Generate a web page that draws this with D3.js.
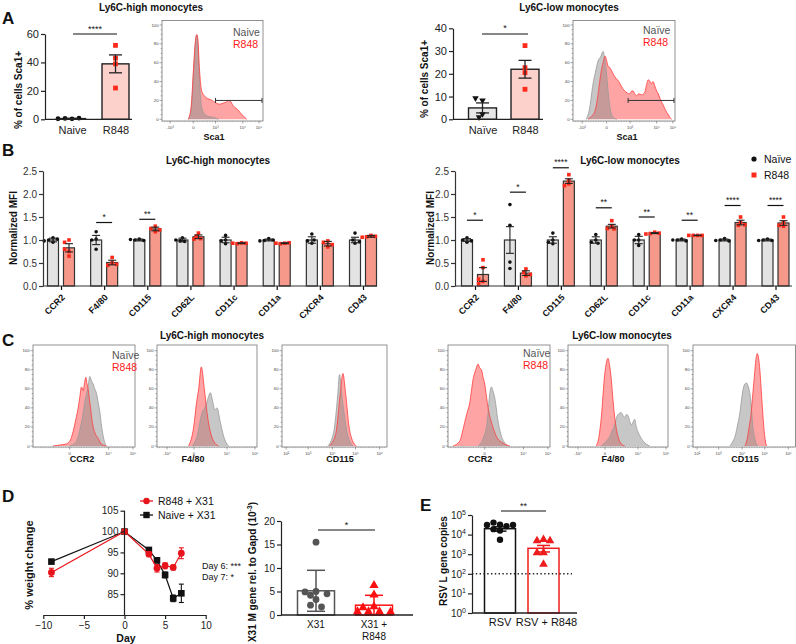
<!DOCTYPE html>
<html><head><meta charset="utf-8">
<script src="https://cdn.jsdelivr.net/npm/d3@7/dist/d3.min.js"></script>
<style>html,body{margin:0;padding:0;background:#fff;}svg{display:block;opacity:0.999;}</style>
</head><body>
<svg id="fig" width="796" height="644" xmlns="http://www.w3.org/2000/svg"></svg>
<script>
// ================= DATA =================
// Panel A: % of cells Sca1+
const aHighCats = ["Naive", "R848"];
const aHighNaivePts = [0.3, 0.6, 0.8, 0.4];
const aHighR848Pts = [52, 43, 39, 22];
const aHighMean = [0.5, 39];
const aHighSem = [0.2, 6.3];
const aHighTicks = [0, 20, 40, 60];

const aLowCats = ["Naïve", "R848"];
const aLowNaivePts = [8.3, 9.3, 2.3, 0.9];
const aLowR848Pts = [32.4, 22.7, 20.5, 13.2];
const aLowMean = [5, 22];
const aLowSem = [2.2, 3.9];
const aLowTicks = [0, 10, 20, 30, 40];

// Sca1 histograms: [channel position 0-100, % of max]
const histAHighNaive = [[26,0],[29,10],[31,45],[33,80],[34.4,89],[35.5,80],[36.7,50],[38,25],[39.5,12],[42,6],[46,3],[51,2],[56,0]];
const histAHighR848 = [[26,0],[29,15],[31,50],[33,82],[34.4,90],[35.5,85],[37,55],[38.5,35],[40,28],[42,25],[45,22],[48,21],[51,19],[54,17],[57,16],[60,17],[63,18],[66,20],[68,19],[70,15],[73,12],[76,9],[79,5],[82,2],[84,0]];
const histALowNaive = [[13,0],[16,10],[19.7,38],[22,50],[24.6,62],[27,66],[29.5,72],[31,65],[32.8,50],[34,35],[35.4,20],[37,8],[39,3],[43,0]];
const histALowR848 = [[14.8,0],[18,3],[21.3,8],[24,22],[25.6,35],[27.5,50],[29.5,60],[31.5,67],[33,62],[34.5,56],[36,55],[38.5,50],[41,45],[43.5,42],[46,38],[48.5,33],[50.8,30],[53,28],[55.7,27],[57.5,30],[59,30],[60.5,27],[62.3,25],[64.5,27],[67.2,26],[69,27],[70.5,29],[72,36],[73.8,42],[75.5,40],[77,38],[78.5,40],[80.3,35],[82,30],[83.6,27],[86,20],[88.5,15],[91,9],[93.4,5],[95,2],[96.7,0]];
const gateAHigh = [53, 99, 20];
const gateALow = [54, 99, 20];
const histTickAHighPos = [8, 31, 53, 80, 96];
const histTickAHighLab = ["-10³", "0", "10³", "10⁴", "10⁵"];
const histTickALowPos = [9, 33, 56, 82, 98];
const histTickALowLab = ["-10³", "0", "10³", "10⁴", "10⁵"];

// Panel B: normalized MFI
const bMarkers = ["CCR2", "F4/80", "CD115", "CD62L", "CD11c", "CD11a", "CXCR4", "CD43"];
const bHighNaiveMean = [1, 1, 1, 1, 1, 1, 1, 1];
const bHighNaiveSem = [0.04, 0.1, 0.02, 0.04, 0.06, 0.02, 0.07, 0.06];
const bHighR848Mean = [0.83, 0.51, 1.24, 1.07, 0.93, 0.93, 0.92, 1.08];
const bHighR848Sem = [0.09, 0.05, 0.04, 0.04, 0.01, 0.01, 0.05, 0.02];
const bHighNaivePts = [[1.05,1.0,0.95,1.02,0.98],[1.18,0.8,1.02,1.0],[1.02,1.0,0.99,1.01],[1.05,0.98,0.97,1.0],[1.1,0.92,1.0,0.98],[1.03,0.99,1.0,0.98],[1.13,0.93,0.98,1.0],[1.15,0.93,1.0,0.96]];
const bHighR848Pts = [[1.0,0.95,0.75,0.65,0.8],[0.62,0.5,0.45,0.47],[1.3,1.25,1.18,1.22],[1.15,1.08,1.03,1.02],[0.94,0.92,0.93,0.93],[0.93,0.92,0.94,0.93],[0.98,0.95,0.85,0.9],[1.1,1.07,1.08,1.06]];
const bHighSig = ["", "*", "**", "", "", "", "", ""];
const bHighSigY = [0, 1.38, 1.45, 0, 0, 0, 0, 0];

const bLowNaiveMean = [1, 1, 1, 1, 1, 1, 1, 1];
const bLowNaiveSem = [0.03, 0.29, 0.07, 0.07, 0.08, 0.02, 0.02, 0.02];
const bLowR848Mean = [0.25, 0.28, 2.28, 1.3, 1.15, 1.1, 1.38, 1.37];
const bLowR848Sem = [0.15, 0.05, 0.05, 0.04, 0.01, 0.005, 0.05, 0.05];
const bLowNaivePts = [[1.05,1.0,0.95,0.98],[1.77,1.32,0.52,0.38],[1.15,1.0,0.95,0.92],[1.12,1.0,0.95,0.93],[1.12,0.88,1.0,1.0],[1.02,1.0,0.98,1.0],[1.03,1.0,0.98,0.99],[1.02,1.0,0.99,0.99]];
const bLowR848Pts = [[0.57,0.4,0.1,0.05,0.15],[0.37,0.3,0.22,0.25],[2.42,2.3,2.22,2.18],[1.42,1.3,1.25,1.24],[1.17,1.14,1.15,1.13],[1.1,1.1,1.1,1.1],[1.5,1.38,1.32,1.33],[1.5,1.38,1.3,1.32]];
const bLowSig = ["*", "*", "****", "**", "**", "**", "****", "****"];
const bLowSigY = [1.43, 2.04, 2.57, 1.7, 1.5, 1.43, 1.75, 1.75];
const bTicks = [0, 0.5, 1, 1.5, 2, 2.5];

// Panel C histograms
const histCHighCCR2Naive = [[36,0],[42,4],[44.3,10],[47,22],[49.2,35],[51,48],[52.5,55],[54,62],[55.7,73],[57.5,68],[59,65],[60.5,60],[62.3,55],[64,45],[65.6,35],[67.3,20],[68.9,10],[70.5,3],[72,0]];
const histCHighCCR2R848 = [[19.7,0],[26,1],[32,2],[36,5],[39.3,15],[42,28],[44.3,40],[46,52],[47.5,62],[49.2,58],[50.5,66],[51.8,72],[53,65],[54,60],[55.2,50],[56.4,40],[57.7,28],[59,20],[61.5,12],[64,8],[67,2],[72,0]];
const histCHighF480Naive = [[35,0],[40,10],[45,35],[48.3,41],[51,50],[53.3,56],[56,45],[57.7,38],[60,40],[63.3,25],[66.7,10],[70,2],[71.7,0]];
const histCHighF480R848 = [[31.7,0],[36.7,20],[39.5,45],[41.7,60],[44.3,83],[47.3,60],[50,35],[53.3,15],[56.7,5],[61.7,0]];
const histCHighCD115Naive = [[43.5,0],[47,6],[50,20],[53.2,55],[54.8,75],[56.8,55],[59.7,30],[62,14],[64.5,5],[67.7,0]];
const histCHighCD115R848 = [[45.2,0],[49,6],[51.6,15],[55.5,55],[58,76],[60.6,55],[63.9,20],[67,6],[71,0]];
const histCLowCCR2Naive = [[29.5,0],[34.4,8],[38.4,25],[41,55],[42.6,62],[44,58],[45.9,50],[49.2,25],[52.5,10],[55.7,3],[59,0]];
const histCLowCCR2R848 = [[4.9,0],[11.5,5],[14,14],[16.4,25],[19,36],[21.3,45],[23,58],[24.6,70],[26,76],[27.2,80],[28.4,84],[29.5,86],[31,82],[32.8,80],[34.4,72],[36,65],[37.7,52],[39.3,40],[42.6,25],[47.5,10],[54,3],[60.7,0]];
const histCLowF480Naive = [[33.3,0],[38,5],[41.7,10],[44,16],[46.7,22],[48.5,30],[50,33],[53.3,35],[55,32],[56.7,30],[58.5,33],[60,32],[62,25],[63.3,22],[65,25],[66.7,28],[68.3,20],[70,15],[73.3,8],[78.3,2],[81.7,0]];
const histCLowF480R848 = [[28.3,0],[31,10],[33.3,30],[36.7,75],[38.5,88],[40,92],[41.5,85],[43.3,70],[45,48],[46.7,30],[50,10],[53.3,2],[56.7,0]];
const histCLowCD115Naive = [[36,0],[38.5,4],[41,10],[43.5,22],[45.8,35],[47.5,50],[49,60],[50.5,65],[52.3,66],[54,62],[55.5,55],[57,40],[58,25],[60.3,8],[63.5,0]];
const histCLowCD115R848 = [[50.6,0],[53,8],[54.8,20],[56.5,32],[58,50],[59.8,72],[61.3,90],[62.6,97],[64,92],[65.2,80],[66.5,60],[67.7,40],[70,10],[71.6,0]];
const histTickCCR2Pos = [36, 74, 98];
const histTickCCR2Lab = ["0", "10⁴", "10⁵"];
const histTickF480Pos = [10, 37, 70, 98];
const histTickF480Lab = ["-10⁴", "0", "10⁴", "10⁵"];
const histTickCD115Pos = [4, 25, 48, 70, 93];
const histTickCD115Lab = ["10²", "10³", "10⁴", "10⁵", "10⁶"];

// Panel D: weight change
const dDays = [-9, 0, 3, 4, 5, 6, 7];
const dR848 = [90.2, 100, 94.6, 91.2, 91.8, 91.4, 94.8];
const dR848Err = [1.0, 0, 0.6, 0.9, 0.7, 0.6, 1.3];
const dNaive = [92.8, 100, 95.6, 93.1, 89.6, 84.0, 85.2];
const dNaiveErr = [0.5, 0, 0.4, 0.6, 0.7, 0.8, 2.2];
const dXTicks = [-10, -5, 0, 5, 10];
const dYTicks = [85, 90, 95, 100, 105];

// Panel D: X31 M gene
const mCats = ["X31", "X31 + R848"];
const mX31Pts = [15.5, 5.0, 4.9, 4.5, 4.2, 3.3, 2.1, 1.7];
const mX31R848Pts = [6.3, 4.3, 1.8, 1.6, 0.7, 0.7, 0.7, 0.6];
const mTicks = [0, 5, 10, 15, 20];

// Panel E: RSV L gene copies
const eCats = ["RSV", "RSV + R848"];
const eMean = [2.0e4, 2.0e3];
const eErrLo = [1.5e4, 1.3e3];
const eErrHi = [2.5e4, 2.8e3];
const eRSVPts = [3.2e4, 4.1e4, 2.7e4, 3.1e4, 3.1e4, 1.9e4, 1.6e4, 5.5e3];
const eRSVR848Pts = [5.6e3, 4.9e3, 4.9e3, 1.2e3, 1.2e3, 3.1e2];
const eTicks = [1, 10, 100, 1e3, 1e4, 1e5];
const eLimit = 100;

// ================= DRAWING =================
const FONT = "'Liberation Sans', Arial, Helvetica, sans-serif";
const svg = d3.select("#fig").attr("font-family", FONT);
const RED = "#ff2a1a";

function label(x, y, s, o = {}) {
  const t = svg.append("text").attr("x", x).attr("y", y).text(s)
    .attr("font-size", o.size || 10).attr("font-weight", o.bold ? "bold" : "normal")
    .attr("fill", o.fill || "#111").attr("text-anchor", o.anchor || "start");
  if (o.rot) t.attr("transform", `rotate(${o.rot},${x},${y})`);
  return t;
}
function styleAxis(g, size = 10, color = "#222", w = 1.2) {
  g.attr("font-family", FONT);
  g.selectAll("text").attr("font-family", FONT).attr("font-size", size).attr("fill", color);
  g.selectAll(".tick line").attr("stroke", color).attr("stroke-width", w);
  g.select(".domain").attr("stroke", color).attr("stroke-width", w);
}
function swarm(vals, y, cx, r, step) {
  const placed = [];
  const offs = [0];
  for (let i = 1; i < 12; i++) offs.push(-i * step, i * step);
  vals.forEach(v => {
    const py = y(v);
    let px = cx;
    for (const o of offs) {
      if (placed.every(p => Math.hypot(p.x - (cx + o), p.y - py) >= 2 * r * 0.9)) { px = cx + o; break; }
    }
    placed.push({ v, x: px, y: py });
  });
  return placed;
}
function shape(g, type, x, y, s, fill) {
  if (type === "circle") g.append("circle").attr("cx", x).attr("cy", y).attr("r", s).attr("fill", fill);
  else if (type === "square") g.append("rect").attr("x", x - s).attr("y", y - s).attr("width", 2 * s).attr("height", 2 * s).attr("fill", fill);
  else {
    const p = d3.symbol(d3.symbolTriangle, s * s * 3.2)();
    g.append("path").attr("d", p).attr("fill", fill)
      .attr("transform", `translate(${x},${y})` + (type === "tridown" ? " rotate(180)" : ""));
  }
}
function errBar(g, x, yLo, yHi, cap, color, w) {
  g.append("line").attr("x1", x).attr("x2", x).attr("y1", yLo).attr("y2", yHi).attr("stroke", color).attr("stroke-width", w);
  [yLo, yHi].forEach(yy => g.append("line").attr("x1", x - cap / 2).attr("x2", x + cap / 2).attr("y1", yy).attr("y2", yy).attr("stroke", color).attr("stroke-width", w));
}
function sig(g, x1, x2, y, s, size = 9) {
  g.append("line").attr("x1", x1).attr("x2", x2).attr("y1", y).attr("y2", y).attr("stroke", "#111").attr("stroke-width", 1.2);
  g.append("text").attr("x", (x1 + x2) / 2).attr("y", y - 2.5).attr("text-anchor", "middle").attr("font-size", size).attr("fill", "#111").text(s);
}

// ---- Panel A bar charts ----
function drawABar(o) {
  const g = svg.append("g");
  const y = d3.scaleLinear().domain([0, o.ymax]).range([119.3, o.yTop]);
  const x = d3.scalePoint().domain(o.cats).range(o.xr);
  o.cats.forEach((c, i) => {
    const m = o.means[i];
    g.append("rect").attr("x", x(c) - o.bw / 2).attr("y", y(m)).attr("width", o.bw)
      .attr("height", y(0) - y(m)).attr("fill", o.fills[i]).attr("stroke", "#222").attr("stroke-width", 1.4);
  });
  o.pts.forEach((arr, i) => {
    swarm(arr, y, x(o.cats[i]), 2.4, 3.5).forEach(p => shape(g, o.shapes[i], p.x, p.y, 2.4, o.ptColors[i]));
  });
  o.cats.forEach((c, i) => errBar(g, x(c), y(Math.max(0, o.means[i] - o.sems[i])), y(o.means[i] + o.sems[i]), 13, "#222", 1.3));
  const ya = g.append("g").attr("transform", `translate(${o.x0},0)`)
    .call(d3.axisLeft(y).tickValues(o.ticks).tickSize(4).tickSizeOuter(0).tickPadding(2));
  styleAxis(ya, 11);
  g.append("line").attr("x1", o.x0).attr("x2", o.x1).attr("y1", y(0)).attr("y2", y(0)).attr("stroke", "#222").attr("stroke-width", 1.3);
  const xa = g.append("g").attr("transform", `translate(0,${y(0)})`).call(d3.axisBottom(x).tickSize(0).tickPadding(7));
  xa.select(".domain").remove();
  styleAxis(xa, 11);
  sig(g, o.sigX[0], o.sigX[1], y(o.sigV), o.sigLab);
  g.append("text").attr("transform", `translate(${o.ylabX},${o.ylabY}) rotate(-90)`).attr("text-anchor", "middle")
    .attr("font-size", 10).attr("font-weight", "bold").attr("fill", "#111").text("% of cells Sca1+");
}
drawABar({ cats: aHighCats, means: aHighMean, sems: aHighSem, pts: [aHighNaivePts, aHighR848Pts], ymax: 60, yTop: 34, xr: [72, 115.5], x0: 45, x1: 132, bw: 27, fills: ["#e6e6e6", "#fcd0cb"], shapes: ["circle", "square"], ptColors: ["#111", RED], ticks: aHighTicks, sigX: [73, 117], sigV: 60, sigLab: "****", ylabX: 22, ylabY: 90 });
drawABar({ cats: aLowCats, means: aLowMean, sems: aLowSem, pts: [aLowNaivePts, aLowR848Pts], ymax: 40, yTop: 28.3, xr: [482.5, 525], x0: 453, x1: 543, bw: 28, fills: ["#e6e6e6", "#fcd0cb"], shapes: ["tridown", "square"], ptColors: ["#111", RED], ticks: aLowTicks, sigX: [482, 528], sigV: 37.5, sigLab: "*", ylabX: 428, ylabY: 79 });

// ---- Histograms ----
function drawHist(o) {
  const g = svg.append("g");
  const x = d3.scaleLinear().domain([0, 100]).range([o.x0, o.x1]);
  const y = d3.scaleLinear().domain([0, 100]).range([o.yZero, o.y100]);
  const area = d3.area().x(d => x(d[0])).y0(y(0)).y1(d => y(d[1])).curve(d3.curveMonotoneX);
  g.append("path").datum(o.red).attr("d", area).attr("fill", "#ff4a4a").attr("fill-opacity", 0.5);
  g.append("path").datum(o.grey).attr("d", area).attr("fill", "#8f8f8f").attr("fill-opacity", 0.5);
  const line = d3.line().x(d => x(d[0])).y(d => y(d[1])).curve(d3.curveMonotoneX);
  g.append("path").datum(o.grey).attr("d", line).attr("fill", "none").attr("stroke", "#999").attr("stroke-width", 0.8);
  g.append("path").datum(o.red).attr("d", line).attr("fill", "none").attr("stroke", "#ff3b3b").attr("stroke-width", 0.8);
  g.append("rect").attr("x", o.x0).attr("y", o.y0).attr("width", o.x1 - o.x0).attr("height", o.y1 - o.y0)
    .attr("fill", "none").attr("stroke", "#777").attr("stroke-width", 0.8);
  d3.range(0, 101, 5).forEach(v => {
    const major = v % 20 === 0;
    g.append("line").attr("x1", o.x0 - (major ? 2.5 : 1.3)).attr("x2", o.x0).attr("y1", y(v)).attr("y2", y(v)).attr("stroke", "#555").attr("stroke-width", 0.5);
    if (major) g.append("text").attr("x", o.x0 - 3.5).attr("y", y(v) + 1.5).attr("text-anchor", "end").attr("font-size", 4.2).attr("fill", "#444").text(v);
  });
  o.tickPos.forEach((p, i) => {
    g.append("line").attr("x1", x(p)).attr("x2", x(p)).attr("y1", o.y1).attr("y2", o.y1 + 2.5).attr("stroke", "#555").attr("stroke-width", 0.5);
    g.append("text").attr("x", x(p)).attr("y", o.y1 + 7.5).attr("text-anchor", "middle").attr("font-size", 4.2).attr("fill", "#444").text(o.tickLab[i]);
  });
  d3.range(0, 100, 2.5).forEach(p => {
    g.append("line").attr("x1", x(p)).attr("x2", x(p)).attr("y1", o.y1).attr("y2", o.y1 + 1.2).attr("stroke", "#777").attr("stroke-width", 0.4);
  });
  if (o.gate) {
    const gy = y(o.gate[2]);
    g.append("line").attr("x1", x(o.gate[0])).attr("x2", x(o.gate[1])).attr("y1", gy).attr("y2", gy).attr("stroke", "#333").attr("stroke-width", 1);
    [o.gate[0], o.gate[1]].forEach(p => g.append("line").attr("x1", x(p)).attr("x2", x(p)).attr("y1", gy - 2.5).attr("y2", gy + 2.5).attr("stroke", "#333").attr("stroke-width", 1));
  }
  if (o.legend) {
    g.append("text").attr("x", o.legend[0]).attr("y", o.legend[1]).attr("font-size", 10.5).attr("fill", "#555").text(o.naiveLab || "Naïve");
    g.append("text").attr("x", o.legend[0]).attr("y", o.legend[1] + 12).attr("font-size", 10.5).attr("fill", "#ff2020").text("R848");
  }
  g.append("text").attr("x", o.xlabX).attr("y", o.xlabY).attr("text-anchor", "middle").attr("font-size", 9).attr("font-weight", "bold").attr("fill", "#111").text(o.xlab);
}
drawHist({ x0: 162, x1: 263, y0: 20.5, y1: 121, y100: 25, yZero: 119.3, grey: histAHighNaive, red: histAHighR848, tickPos: histTickAHighPos, tickLab: histTickAHighLab, gate: gateAHigh, legend: [233, 36], naiveLab: "Naive", xlab: "Sca1", xlabX: 214, xlabY: 140 });
drawHist({ x0: 573, x1: 675, y0: 20.5, y1: 121, y100: 25, yZero: 119.3, grey: histALowNaive, red: histALowR848, tickPos: histTickALowPos, tickLab: histTickALowLab, gate: gateALow, legend: [643, 34], naiveLab: "Naïve", xlab: "Sca1", xlabX: 627, xlabY: 140 });

const cBoxesY = { y0: 345, y1: 447, y100: 350.7, yZero: 446 };
drawHist(Object.assign({ x0: 33, x1: 135, grey: histCHighCCR2Naive, red: histCHighCCR2R848, tickPos: histTickCCR2Pos, tickLab: histTickCCR2Lab, legend: [112, 359], xlab: "CCR2", xlabX: 82, xlabY: 462 }, cBoxesY));
drawHist(Object.assign({ x0: 157, x1: 257, grey: histCHighF480Naive, red: histCHighF480R848, tickPos: histTickF480Pos, tickLab: histTickF480Lab, xlab: "F4/80", xlabX: 193, xlabY: 462 }, cBoxesY));
drawHist(Object.assign({ x0: 282, x1: 387, grey: histCHighCD115Naive, red: histCHighCD115R848, tickPos: histTickCD115Pos, tickLab: histTickCD115Lab, xlab: "CD115", xlabX: 340, xlabY: 462 }, cBoxesY));
drawHist(Object.assign({ x0: 448, x1: 550, grey: histCLowCCR2Naive, red: histCLowCCR2R848, tickPos: histTickCCR2Pos, tickLab: histTickCCR2Lab, legend: [523, 357], xlab: "CCR2", xlabX: 480, xlabY: 462 }, cBoxesY));
drawHist(Object.assign({ x0: 568, x1: 668, grey: histCLowF480Naive, red: histCLowF480R848, tickPos: histTickF480Pos, tickLab: histTickF480Lab, xlab: "F4/80", xlabX: 613, xlabY: 462 }, cBoxesY));
drawHist(Object.assign({ x0: 693, x1: 795.5, grey: histCLowCD115Naive, red: histCLowCD115R848, tickPos: histTickCD115Pos, tickLab: histTickCD115Lab, xlab: "CD115", xlabX: 745, xlabY: 462 }, cBoxesY));

// ---- Panel B ----
function drawB(o) {
  const g = svg.append("g");
  const y = d3.scaleLinear().domain([0, 2.5]).range([286, 171]);
  const x = d3.scalePoint().domain(bMarkers).range(o.xr);
  const off = 8, bw = 11;
  bMarkers.forEach((m, i) => {
    const sets = [
      [o.nMean[i], o.nSem[i], o.nPts[i], "#e3e3e3", -off, "circle", "#111"],
      [o.rMean[i], o.rSem[i], o.rPts[i], "#f6998b", off, "square", RED]
    ];
    sets.forEach(([mean, sem, pts, fill, dx, shp, pc]) => {
      const cx = x(m) + dx;
      g.append("rect").attr("x", cx - bw / 2).attr("y", y(mean)).attr("width", bw).attr("height", y(0) - y(mean))
        .attr("fill", fill).attr("stroke", "#333").attr("stroke-width", 1.2);
      swarm(pts, y, cx, 1.8, 2.2).forEach(p => shape(g, shp, p.x, p.y, 1.8, pc));
      errBar(g, cx, y(Math.max(0, mean - sem)), y(mean + sem), 8, "#222", 1.1);
    });
    if (o.sig[i]) sig(g, x(m) - off, x(m) + off, y(o.sigY[i]), o.sig[i], 8.5);
  });
  const ya = g.append("g").attr("transform", `translate(${o.x0},0)`)
    .call(d3.axisLeft(y).tickValues(bTicks).tickFormat(d3.format(".1f")).tickSize(4).tickSizeOuter(0).tickPadding(2));
  styleAxis(ya, 10, "#333");
  g.append("line").attr("x1", o.x0).attr("x2", o.x1).attr("y1", y(0)).attr("y2", y(0)).attr("stroke", "#333").attr("stroke-width", 1.2);
  const xa = g.append("g").attr("transform", `translate(0,${y(0)})`).call(d3.axisBottom(x).tickSize(4));
  xa.select(".domain").remove();
  styleAxis(xa, 9, "#111");
  xa.selectAll("text").attr("x", 0).attr("y", 0).attr("dy", 0).attr("text-anchor", "end").attr("font-weight", "bold")
    .attr("transform", "translate(4,12) rotate(-45)");
  g.append("text").attr("transform", `translate(${o.ylabX},228) rotate(-90)`).attr("text-anchor", "middle")
    .attr("font-size", 10).attr("font-weight", "bold").attr("fill", "#111").text("Normalized MFI");
  g.append("text").attr("x", o.titleX).attr("y", 164).attr("text-anchor", "middle").attr("font-size", 10)
    .attr("font-weight", "bold").attr("fill", "#111").text(o.title);
}
drawB({ xr: [61, 363], x0: 43, x1: 377, nMean: bHighNaiveMean, nSem: bHighNaiveSem, rMean: bHighR848Mean, rSem: bHighR848Sem, nPts: bHighNaivePts, rPts: bHighR848Pts, sig: bHighSig, sigY: bHighSigY, ylabX: 17, titleX: 218, title: "Ly6C-high monocytes" });
drawB({ xr: [475, 775.5], x0: 455, x1: 792, nMean: bLowNaiveMean, nSem: bLowNaiveSem, rMean: bLowR848Mean, rSem: bLowR848Sem, nPts: bLowNaivePts, rPts: bLowR848Pts, sig: bLowSig, sigY: bLowSigY, ylabX: 434, titleX: 630, title: "Ly6C-low monocytes" });
svg.append("circle").attr("cx", 754).attr("cy", 159).attr("r", 2.6).attr("fill", "#111");
label(764, 163, "Naïve", { size: 10.5 });
svg.append("rect").attr("x", 751.5).attr("y", 172.5).attr("width", 5).attr("height", 5).attr("fill", RED);
label(764, 179, "R848", { size: 10.5 });

// ---- Panel D: weight ----
(function () {
  const g = svg.append("g");
  const x = d3.scaleLinear().domain([-10, 10]).range([43.3, 205.7]);
  const y = d3.scaleLinear().domain([80, 105]).range([615, 510.7]);
  const series = [
    { v: dNaive, e: dNaiveErr, c: "#111", shp: "square" },
    { v: dR848, e: dR848Err, c: "#e8141c", shp: "circle" }
  ];
  series.forEach(s => {
    const pts = dDays.map((d, i) => [d, s.v[i]]);
    g.append("path").datum(pts).attr("d", d3.line().x(d => x(d[0])).y(d => y(d[1]))).attr("fill", "none").attr("stroke", s.c).attr("stroke-width", 1.2);
    dDays.forEach((d, i) => { if (s.e[i] > 0) errBar(g, x(d), y(s.v[i] - s.e[i]), y(s.v[i] + s.e[i]), 5, s.c, 1.1); });
    dDays.forEach((d, i) => shape(g, s.shp, x(d), y(s.v[i]), s.shp === "square" ? 3.3 : 3.4, s.c));
  });
  const ya = g.append("g").attr("transform", `translate(${x(0)},0)`).call(d3.axisLeft(y).tickValues(dYTicks).tickSize(4).tickSizeOuter(0).tickPadding(2));
  styleAxis(ya, 10, "#222");
  ya.select(".domain").attr("d", `M0,${y(105)}V${y(80)}`);
  const xa = g.append("g").attr("transform", `translate(0,${y(80)})`).call(d3.axisBottom(x).tickValues(dXTicks).tickSize(4).tickSizeOuter(0).tickPadding(3));
  styleAxis(xa, 10, "#222");
  label(126, 642, "Day", { size: 10.5, bold: true, anchor: "middle" });
  g.append("text").attr("transform", "translate(33,565) rotate(-90)").attr("text-anchor", "middle").attr("font-size", 11).attr("font-weight", "bold").attr("fill", "#111").text("% weight change");
  label(202, 569, "Day 6: ***", { size: 9 });
  label(202, 580, "Day 7: *", { size: 9 });
  g.append("line").attr("x1", 140).attr("x2", 153).attr("y1", 501).attr("y2", 501).attr("stroke", "#e8141c").attr("stroke-width", 1.3);
  shape(g, "circle", 146.5, 501, 3.2, "#e8141c");
  label(158, 505, "R848 + X31", { size: 10.5 });
  g.append("line").attr("x1", 140).attr("x2", 153).attr("y1", 515).attr("y2", 515).attr("stroke", "#111").attr("stroke-width", 1.3);
  shape(g, "square", 146.5, 515, 3.2, "#111");
  label(158, 519, "Naive + X31", { size: 10.5 });
})();

// ---- Panel D: X31 M gene ----
(function () {
  const g = svg.append("g");
  const y = d3.scaleLinear().domain([0, 20]).range([615, 521]);
  const x = d3.scalePoint().domain(mCats).range([316, 374]);
  const groups = [
    { pts: mX31Pts, c: "#555", shp: "circle" },
    { pts: mX31R848Pts, c: "#ff1010", shp: "tri" }
  ];
  groups.forEach((gr, i) => {
    const cx = x(mCats[i]);
    const m = d3.mean(gr.pts), sd = d3.deviation(gr.pts);
    g.append("rect").attr("x", cx - 18.5).attr("y", y(m)).attr("width", 37).attr("height", y(0) - y(m)).attr("fill", "#fff").attr("stroke", gr.c).attr("stroke-width", 1.5);
    swarm(gr.pts, y, cx, 3.4, 5.5).forEach(p => shape(g, gr.shp, p.x, p.y, 3.4, gr.c));
    errBar(g, cx, y(Math.max(0, m - sd)), y(m + sd), 18, gr.c, 1.5);
  });
  const ya = g.append("g").attr("transform", "translate(281,0)").call(d3.axisLeft(y).tickValues(mTicks).tickSize(4).tickSizeOuter(0).tickPadding(2));
  styleAxis(ya, 10, "#222");
  g.append("line").attr("x1", 281).attr("x2", 413).attr("y1", y(0)).attr("y2", y(0)).attr("stroke", "#222").attr("stroke-width", 1.3);
  label(x(mCats[0]), 628, "X31", { size: 10, anchor: "middle" });
  label(x(mCats[1]), 628, "X31 +", { size: 10, anchor: "middle" });
  label(x(mCats[1]), 640, "R848", { size: 10, anchor: "middle" });
  sig(g, 318, 375, 530, "*");
  const t = g.append("text").attr("transform", "translate(256,572) rotate(-90)").attr("text-anchor", "middle").attr("font-size", 10).attr("font-weight", "bold").attr("fill", "#111");
  t.append("tspan").text("X31 M gene rel. to Gapd (10");
  t.append("tspan").attr("dy", -4).attr("font-size", 7).text("-3");
  t.append("tspan").attr("dy", 4).text(")");
})();

// ---- Panel E ----
(function () {
  const g = svg.append("g");
  const y = d3.scaleLog().domain([1, 1e5]).range([613, 515]);
  const x = d3.scalePoint().domain(eCats).range([500, 543.5]);
  const groups = [
    { pts: eRSVPts, c: "#111", shp: "circle" },
    { pts: eRSVR848Pts, c: "#ee1c1c", shp: "tri" }
  ];
  groups.forEach((gr, i) => {
    const cx = x(eCats[i]);
    g.append("rect").attr("x", cx - 15.5).attr("y", y(eMean[i])).attr("width", 31).attr("height", y(1) - y(eMean[i])).attr("fill", "#fff").attr("stroke", gr.c).attr("stroke-width", 1.5);
    swarm(gr.pts, y, cx, 3.2, 6.5).forEach(p => shape(g, gr.shp, p.x, p.y, 3.2, gr.c));
    errBar(g, cx, y(eErrLo[i]), y(eErrHi[i]), 13, gr.c, 1.5);
  });
  g.append("line").attr("x1", 472).attr("x2", 572).attr("y1", y(eLimit)).attr("y2", y(eLimit)).attr("stroke", "#222").attr("stroke-width", 1.4).attr("stroke-dasharray", "1.4,2.4");
  const ya = g.append("g").attr("transform", "translate(472,0)").call(d3.axisLeft(y).tickValues(eTicks).tickSize(4).tickSizeOuter(0).tickPadding(2).tickFormat(() => ""));
  styleAxis(ya, 10, "#222");
  ya.selectAll(".tick text").each(function (d) {
    const t = d3.select(this).text("");
    t.append("tspan").text("10");
    t.append("tspan").attr("dy", -4).attr("font-size", 7).text(Math.round(Math.log10(d)));
  });
  g.append("line").attr("x1", 472).attr("x2", 577).attr("y1", y(1)).attr("y2", y(1)).attr("stroke", "#222").attr("stroke-width", 1.3);
  label(x(eCats[0]), 626, "RSV", { size: 11, anchor: "middle" });
  label(x(eCats[1]) + 3, 626, "RSV + R848", { size: 11, anchor: "middle" });
  sig(g, 501, 546, 511, "**");
  g.append("text").attr("transform", "translate(447,561) rotate(-90)").attr("text-anchor", "middle").attr("font-size", 10).attr("font-weight", "bold").attr("fill", "#111").text("RSV L gene copies");
})();

// ---- Titles and panel letters ----
label(151, 11, "Ly6C-high monocytes", { size: 10, bold: true, anchor: "middle" });
label(569, 11, "Ly6C-low monocytes", { size: 10, bold: true, anchor: "middle" });
label(212, 339, "Ly6C-high monocytes", { size: 10, bold: true, anchor: "middle" });
label(622, 339, "Ly6C-low monocytes", { size: 10, bold: true, anchor: "middle" });
label(2, 24, "A", { size: 17, bold: true });
label(2, 156, "B", { size: 17, bold: true });
label(2, 346, "C", { size: 17, bold: true });
label(2, 502, "D", { size: 17, bold: true });
label(420, 511, "E", { size: 17, bold: true });
</script>
</body></html>
